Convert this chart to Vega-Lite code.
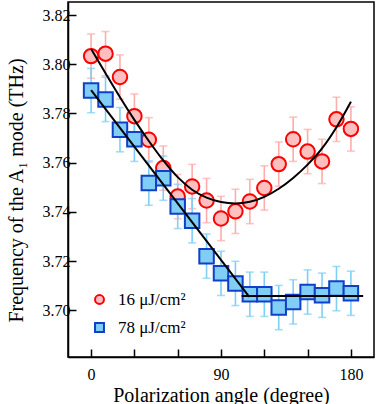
{
  "$schema": "https://vega.github.io/schema/vega-lite/v6.json",
  "autosize": {"type": "none"},
  "padding": {"left": 68, "top": 2, "right": 7, "bottom": 47},
  "width": 306,
  "height": 355,
  "background": "white",
  "datasets": {
    "pts": [
      {"angle": 0, "freq": 3.8033, "err": 0.009, "series": "16 μJ/cm²"},
      {"angle": 10, "freq": 3.8043, "err": 0.009, "series": "16 μJ/cm²"},
      {"angle": 20, "freq": 3.7948, "err": 0.009, "series": "16 μJ/cm²"},
      {"angle": 30, "freq": 3.7789, "err": 0.009, "series": "16 μJ/cm²"},
      {"angle": 40, "freq": 3.7693, "err": 0.009, "series": "16 μJ/cm²"},
      {"angle": 50, "freq": 3.7578, "err": 0.009, "series": "16 μJ/cm²"},
      {"angle": 60, "freq": 3.7462, "err": 0.009, "series": "16 μJ/cm²"},
      {"angle": 70, "freq": 3.7503, "err": 0.009, "series": "16 μJ/cm²"},
      {"angle": 80, "freq": 3.7446, "err": 0.009, "series": "16 μJ/cm²"},
      {"angle": 90, "freq": 3.7373, "err": 0.009, "series": "16 μJ/cm²"},
      {"angle": 100, "freq": 3.7402, "err": 0.009, "series": "16 μJ/cm²"},
      {"angle": 110, "freq": 3.7442, "err": 0.009, "series": "16 μJ/cm²"},
      {"angle": 120, "freq": 3.7497, "err": 0.009, "series": "16 μJ/cm²"},
      {"angle": 130, "freq": 3.7594, "err": 0.009, "series": "16 μJ/cm²"},
      {"angle": 140, "freq": 3.7695, "err": 0.009, "series": "16 μJ/cm²"},
      {"angle": 150, "freq": 3.7645, "err": 0.009, "series": "16 μJ/cm²"},
      {"angle": 160, "freq": 3.7605, "err": 0.009, "series": "16 μJ/cm²"},
      {"angle": 170, "freq": 3.7776, "err": 0.009, "series": "16 μJ/cm²"},
      {"angle": 180, "freq": 3.7737, "err": 0.009, "series": "16 μJ/cm²"},
      {"angle": 0, "freq": 3.7893, "err": 0.009, "series": "78 μJ/cm²"},
      {"angle": 10, "freq": 3.7857, "err": 0.009, "series": "78 μJ/cm²"},
      {"angle": 20, "freq": 3.7734, "err": 0.009, "series": "78 μJ/cm²"},
      {"angle": 30, "freq": 3.7695, "err": 0.009, "series": "78 μJ/cm²"},
      {"angle": 40, "freq": 3.7517, "err": 0.009, "series": "78 μJ/cm²"},
      {"angle": 50, "freq": 3.7537, "err": 0.009, "series": "78 μJ/cm²"},
      {"angle": 60, "freq": 3.7422, "err": 0.009, "series": "78 μJ/cm²"},
      {"angle": 70, "freq": 3.7364, "err": 0.009, "series": "78 μJ/cm²"},
      {"angle": 80, "freq": 3.7220, "err": 0.009, "series": "78 μJ/cm²"},
      {"angle": 90, "freq": 3.7150, "err": 0.009, "series": "78 μJ/cm²"},
      {"angle": 100, "freq": 3.7109, "err": 0.009, "series": "78 μJ/cm²"},
      {"angle": 110, "freq": 3.7065, "err": 0.009, "series": "78 μJ/cm²"},
      {"angle": 120, "freq": 3.7065, "err": 0.009, "series": "78 μJ/cm²"},
      {"angle": 130, "freq": 3.7011, "err": 0.009, "series": "78 μJ/cm²"},
      {"angle": 140, "freq": 3.7034, "err": 0.009, "series": "78 μJ/cm²"},
      {"angle": 150, "freq": 3.7074, "err": 0.009, "series": "78 μJ/cm²"},
      {"angle": 160, "freq": 3.7061, "err": 0.009, "series": "78 μJ/cm²"},
      {"angle": 170, "freq": 3.7088, "err": 0.009, "series": "78 μJ/cm²"},
      {"angle": 180, "freq": 3.7069, "err": 0.009, "series": "78 μJ/cm²"}
    ],
    "fits": [
      {"angle": 0, "value": 3.8062, "fit": "r"},
      {"angle": 10, "value": 3.7963, "fit": "r"},
      {"angle": 20, "value": 3.7866, "fit": "r"},
      {"angle": 30, "value": 3.7774, "fit": "r"},
      {"angle": 40, "value": 3.7688, "fit": "r"},
      {"angle": 50, "value": 3.7609, "fit": "r"},
      {"angle": 60, "value": 3.7541, "fit": "r"},
      {"angle": 70, "value": 3.7490, "fit": "r"},
      {"angle": 80, "value": 3.7458, "fit": "r"},
      {"angle": 90, "value": 3.7440, "fit": "r"},
      {"angle": 100, "value": 3.7434, "fit": "r"},
      {"angle": 110, "value": 3.7441, "fit": "r"},
      {"angle": 120, "value": 3.7461, "fit": "r"},
      {"angle": 130, "value": 3.7494, "fit": "r"},
      {"angle": 140, "value": 3.7538, "fit": "r"},
      {"angle": 150, "value": 3.7592, "fit": "r"},
      {"angle": 160, "value": 3.7658, "fit": "r"},
      {"angle": 170, "value": 3.7744, "fit": "r"},
      {"angle": 180, "value": 3.7848, "fit": "r"},
      {"angle": 0, "value": 3.7895, "fit": "b1"},
      {"angle": 109.6, "value": 3.7054, "fit": "b1"},
      {"angle": 104.3, "value": 3.7058, "fit": "b2"},
      {"angle": 188.5, "value": 3.7058, "fit": "b2"}
    ]
  },
  "layer": [
    {
      "data": {"name": "pts"},
      "transform": [{"filter": "datum.series === '16 μJ/cm²'"}],
      "mark": {"type": "errorbar", "color": "#ffacac", "thickness": 1.6, "ticks": {"size": 8, "thickness": 1.6}},
      "encoding": {
        "x": {"field": "angle", "type": "quantitative", "title": "Polarization angle (degree)", "scale": {"domain": [-16, 196], "nice": false, "zero": false},
          "axis": {"values": [0, 30, 60, 90, 120, 150, 180], "labelExpr": "datum.value % 90 === 0 ? datum.label : ''",
            "labelFont": "Liberation Serif", "titleFont": "Liberation Serif",
            "encode": {"ticks": {"update": {"y2": {"signal": "datum.value % 90 === 0 ? -9 : -6"}}}}}},
        "y": {"field": "freq", "type": "quantitative", "title": "Frequency of the A₁ mode (THz)", "scale": {"domain": [3.681, 3.8253], "nice": false, "zero": false},
          "axis": {"values": [3.70, 3.72, 3.74, 3.76, 3.78, 3.80, 3.82], "format": ".2f", "labelFont": "Liberation Serif", "titleFont": "Liberation Serif", "titleY": 188}},
        "yError": {"field": "err"}
      }
    },
    {
      "data": {"name": "pts"},
      "transform": [{"filter": "datum.series === '78 μJ/cm²'"}],
      "mark": {"type": "errorbar", "color": "#7fcff5", "thickness": 1.6, "ticks": {"size": 8, "thickness": 1.6}},
      "encoding": {
        "x": {"field": "angle", "type": "quantitative", "title": "Polarization angle (degree)"},
        "y": {"field": "freq", "type": "quantitative", "title": "Frequency of the A₁ mode (THz)"},
        "yError": {"field": "err"}
      }
    },
    {
      "data": {"name": "pts"},
      "mark": {"type": "point", "filled": true, "opacity": 1, "size": 210, "strokeWidth": 2},
      "encoding": {
        "x": {"field": "angle", "type": "quantitative", "title": "Polarization angle (degree)"},
        "y": {"field": "freq", "type": "quantitative", "title": "Frequency of the A₁ mode (THz)"},
        "shape": {"field": "series", "type": "nominal", "title": null, "scale": {"domain": ["16 μJ/cm²", "78 μJ/cm²"], "range": ["circle", "square"]},
          "legend": {"labelFont": "Liberation Serif", "labelFontSize": 17}},
        "fill": {"field": "series", "type": "nominal", "title": null, "scale": {"domain": ["16 μJ/cm²", "78 μJ/cm²"], "range": ["#ffbfbf", "#80cdf5"]},
          "legend": {"labelFont": "Liberation Serif", "labelFontSize": 17}},
        "stroke": {"field": "series", "type": "nominal", "title": null, "scale": {"domain": ["16 μJ/cm²", "78 μJ/cm²"], "range": ["#ff0000", "#1040c8"]},
          "legend": {"labelFont": "Liberation Serif", "labelFontSize": 17}}
      }
    },
    {
      "data": {"name": "fits"},
      "mark": {"type": "line", "color": "black", "strokeWidth": 2, "interpolate": "monotone"},
      "encoding": {
        "x": {"field": "angle", "type": "quantitative", "title": "Polarization angle (degree)"},
        "y": {"field": "value", "type": "quantitative", "title": "Frequency of the A₁ mode (THz)"},
        "detail": {"field": "fit", "type": "nominal"}
      }
    }
  ],
  "config": {
    "font": "Liberation Serif",
    "view": {"stroke": "black", "strokeWidth": 1.5},
    "axis": {
      "grid": false,
      "domainColor": "black",
      "domainWidth": 1.5,
      "tickColor": "black",
      "tickWidth": 1.5,
      "tickSize": -8,
      "labelFont": "Liberation Serif",
      "labelFontSize": 16,
      "labelColor": "black",
      "titleFont": "Liberation Serif",
      "titleFontSize": 20,
      "titleFontWeight": "normal",
      "titleColor": "black"
    },
    "axisX": {"labelPadding": 17, "titlePadding": 3},
    "axisY": {"labelPadding": 6, "titlePadding": 16},
    "legend": {
      "orient": "none",
      "legendX": 23,
      "legendY": 289,
      "padding": 0,
      "symbolSize": 80,
      "symbolStrokeWidth": 2,
      "labelFont": "Liberation Serif",
      "labelFontSize": 17,
      "labelColor": "black",
      "labelOffset": 10,
      "rowPadding": 10
    }
  }
}
